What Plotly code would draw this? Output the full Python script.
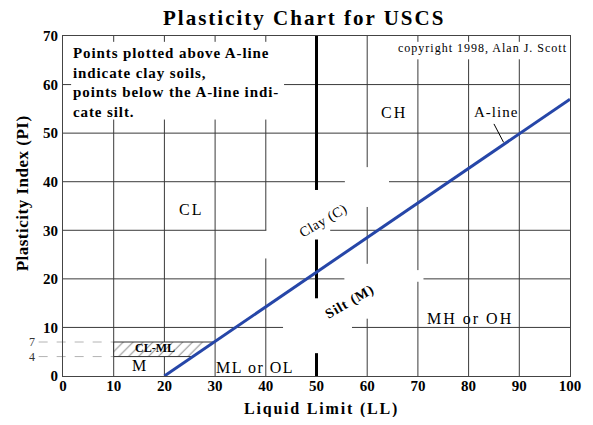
import numpy as np
import plotly.graph_objects as go

# ---------------- data ----------------
ll_ticks = [0, 10, 20, 30, 40, 50, 60, 70, 80, 90, 100]
pi_ticks = [0, 10, 20, 30, 40, 50, 60, 70]
a_line_ll = [20, 100]
a_line_pi = [0, 57]
clml_pi_bounds = [4, 7]
clml_left_ll = 10
minor_pi_ticks = [4, 7]

SERIF = "Liberation Serif"
GRID = "#3a3a3a"
BLUE = "#2646a8"

# gridline segments (chart structure: value -> list of visible spans)
h_segments = {
    60: [(0, 1.6), (43.6, 100)],
    50: [(0, 100)],
    40: [(0, 55.6), (64.3, 100)],
    30: [(0, 40.1), (52.7, 100)],
    20: [(0, 55.5), (71.1, 100)],
    10: [(0, 43.4), (57.0, 100)],
}
v_segments = {
    10: [(68.8, 70), (0, 52.8)],
    20: [(68.8, 70), (0, 52.8)],
    30: [(68.8, 70), (0, 52.8)],
    40: [(68.8, 70), (30, 52.8), (0, 24.2)],
    60: [(43.0, 70), (23.1, 34.8), (0, 11.8)],
    70: [(68.8, 70), (21.8, 65.2), (0, 19.4)],
    80: [(68.8, 70), (0, 65.2)],
    90: [(68.8, 70), (0, 65.2)],
}
thick_ll = 50
thick_segments = [(38.3, 70), (16.0, 28.1), (0, 4.7)]

shapes = []
for yv, spans in h_segments.items():
    for a, b in spans:
        shapes.append(dict(type="line", xref="x", yref="y", x0=a, x1=b, y0=yv, y1=yv,
                           line=dict(color=GRID, width=1), layer="below"))
for xv, spans in v_segments.items():
    for a, b in spans:
        shapes.append(dict(type="line", xref="x", yref="y", x0=xv, x1=xv, y0=a, y1=b,
                           line=dict(color=GRID, width=1), layer="below"))
for a, b in thick_segments:
    shapes.append(dict(type="line", xref="x", yref="y", x0=thick_ll, x1=thick_ll, y0=a, y1=b,
                       line=dict(color="black", width=3), layer="below"))
# dashed guides for PI 4 and 7
for pv in minor_pi_ticks:
    shapes.append(dict(type="line", xref="paper", yref="y", x0=-0.048, x1=clml_left_ll / 100,
                       y0=pv, y1=pv, line=dict(color="#b4b4b4", width=1, dash="dash"),
                       layer="below"))
# A-line label leader
shapes.append(dict(type="line", xref="x", yref="y", x0=85.0, x1=86.9, y0=51.9, y1=48.1,
                   line=dict(color="black", width=1)))

fig = go.Figure()

# CL-ML hatched band bounded by the A-line
x_lo = float(np.interp(clml_pi_bounds[0], a_line_pi, a_line_ll))
x_hi = float(np.interp(clml_pi_bounds[1], a_line_pi, a_line_ll))
fig.add_trace(go.Scatter(
    x=[clml_left_ll, x_lo, x_hi, clml_left_ll, clml_left_ll],
    y=[clml_pi_bounds[0], clml_pi_bounds[0], clml_pi_bounds[1], clml_pi_bounds[1], clml_pi_bounds[0]],
    mode="lines", fill="toself", fillcolor="white",
    fillpattern=dict(shape="/", fgcolor="#222222", bgcolor="white", size=7, solidity=0.15),
    line=dict(color="#333333", width=1), hoverinfo="skip", showlegend=False))

# A-line
fig.add_trace(go.Scatter(x=a_line_ll, y=a_line_pi, mode="lines",
                         line=dict(color=BLUE, width=3), showlegend=False))


def sp(text, px):
    return f'<span style="letter-spacing:{px}px">{text}</span>'


ann = []
def label(text, x, y, size=16, bold=False, angle=0, spacing=0, **kw):
    t = "<br>".join(sp(s, spacing) for s in text.split("<br>")) if spacing else text
    d = dict(text=t, x=x, y=y, xref="x", yref="y", showarrow=False, textangle=angle,
             xanchor="center", yanchor="middle",
             font=dict(family=SERIF, size=size, color="black", weight="bold" if bold else "normal"))
    d.update(kw)
    ann.append(d)

label("Points plotted above A-line<br>indicate clay soils,<br>points below the A-line indi-<br>cate silt.",
      1.6, 68.6, size=15, bold=True, spacing=0.9, xanchor="left", yanchor="top", align="left")
label("copyright 1998, Alan J. Scott", 99.9, 67.6, size=12, spacing=1, xanchor="right")
label("CH", 65.3, 54.2, spacing=2)
label("CL", 25.3, 34.2, spacing=2)
label("A-line", 85.4, 54.4, size=15, spacing=1)
label("Clay (C)", 51.4, 32.0, size=14, angle=-30, spacing=0.5)
label("Silt (M)", 56.6, 15.2, size=14, bold=True, angle=-30, spacing=1)
label("MH or OH", 80.2, 11.9, spacing=2)
label("ML or OL", 37.9, 1.8, spacing=1.5)
label("M", 14.9, 2.2)
label("CL-ML", 18.1, 5.8, size=12, bold=True)

# minor PI tick labels
for pv in minor_pi_ticks:
    ann.append(dict(text=str(pv), x=-0.052, y=pv, xref="paper", yref="y", showarrow=False,
                    xanchor="right", yanchor="middle",
                    font=dict(family=SERIF, size=12, color="#333")))

# titles
ann.append(dict(text=sp("Plasticity Chart for USCS", 2), x=0.475, y=1.052, xref="paper", yref="paper",
                xanchor="center", yanchor="middle", showarrow=False,
                font=dict(family=SERIF, size=21, color="black", weight="bold")))
ann.append(dict(text=sp("Liquid Limit (LL)", 1.8), x=0.51, y=-0.097, xref="paper", yref="paper",
                xanchor="center", yanchor="middle", showarrow=False,
                font=dict(family=SERIF, size=16, color="black", weight="bold")))
ann.append(dict(text=sp("Plasticity Index (PI)", 0.5), x=-0.081, y=0.537, xref="paper", yref="paper",
                xanchor="center", yanchor="middle", showarrow=False, textangle=-90,
                font=dict(family=SERIF, size=17, color="black", weight="bold")))

tickfont = dict(family=SERIF, size=15, color="black", weight="bold")
fig.update_layout(
    width=585, height=409,
    margin=dict(l=55, r=14, t=28, b=41),
    paper_bgcolor="white", plot_bgcolor="white",
    shapes=shapes, annotations=ann, showlegend=False,
    xaxis=dict(range=[0, 100], tickvals=ll_ticks, ticktext=[str(v) for v in ll_ticks],
               showgrid=False, zeroline=False, showline=True, linecolor="#444", linewidth=1,
               mirror=True, ticks="", tickfont=tickfont, ticklabelstandoff=-4,
               ticklabeloverflow="allow", fixedrange=True),
    yaxis=dict(range=[0, 70], tickvals=pi_ticks, ticktext=[str(v) for v in pi_ticks],
               showgrid=False, zeroline=False, showline=True, linecolor="#444", linewidth=1,
               mirror=True, ticks="", tickfont=tickfont, ticklabelstandoff=1, fixedrange=True),
)

fig.write_html("out.html", config={"displayModeBar": False})
